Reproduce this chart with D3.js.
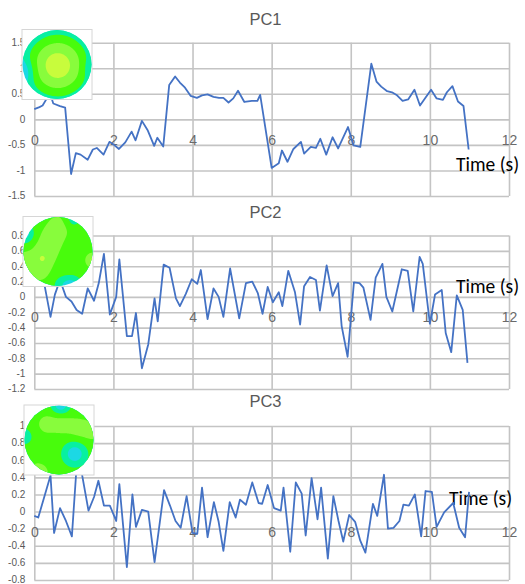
<!DOCTYPE html>
<html><head><meta charset="utf-8">
<script src="https://cdn.jsdelivr.net/npm/d3@7"></script>
<style>
html,body{margin:0;padding:0;background:#fff;}
svg{display:block;font-family:"Liberation Sans",Arial,sans-serif;}
</style></head>
<body><svg id="c" width="525" height="584"></svg>
<script>
// ---------- data ----------
const xTicks = [0, 2, 4, 6, 8, 10, 12];
const xLabel = "Time (s)";
const titles = ["PC1", "PC2", "PC3"];

const pc1Time = [0,0.13,0.21,0.31,0.40,0.48,0.65,0.78,0.93,1.05,1.17,1.35,1.48,1.58,1.75,1.90,2.0,2.14,2.30,2.46,2.56,2.72,2.87,3.03,3.11,3.26,3.41,3.56,3.68,3.81,3.95,4.11,4.24,4.38,4.53,4.67,4.78,4.91,5.03,5.15,5.31,5.50,5.64,5.71,6.0,6.18,6.26,6.40,6.55,6.74,6.82,6.99,7.12,7.23,7.38,7.54,7.68,7.93,8.07,8.24,8.52,8.65,8.77,8.92,9.04,9.17,9.31,9.45,9.61,9.75,10.03,10.17,10.33,10.43,10.57,10.71,10.85,10.98];
const pc1Vals = [0.20,0.24,0.27,0.40,0.50,0.31,0.26,0.23,-1.07,-0.66,-0.69,-0.79,-0.59,-0.56,-0.69,-0.44,-0.49,-0.58,-0.45,-0.24,-0.41,-0.03,-0.22,-0.52,-0.36,-0.53,0.67,0.84,0.72,0.62,0.46,0.42,0.47,0.49,0.44,0.42,0.42,0.33,0.41,0.56,0.34,0.36,0.36,0.48,-0.95,-0.86,-0.61,-0.83,-0.58,-0.44,-0.67,-0.54,-0.56,-0.38,-0.69,-0.35,-0.57,-0.15,-0.51,-0.54,1.09,0.74,0.64,0.55,0.53,0.47,0.36,0.39,0.58,0.27,0.58,0.41,0.38,0.53,0.65,0.35,0.26,-0.59];

const pc2Time = [0,0.15,0.41,0.52,0.65,0.80,0.94,1.07,1.21,1.35,1.51,1.63,1.76,1.91,2.07,2.15,2.34,2.47,2.57,2.72,2.88,3.04,3.12,3.27,3.42,3.58,3.68,3.83,3.98,4.12,4.21,4.38,4.53,4.66,4.78,4.95,5.18,5.35,5.51,5.65,5.77,5.90,6.03,6.18,6.27,6.42,6.59,6.72,6.82,6.97,7.12,7.22,7.39,7.54,7.68,7.77,7.92,8.08,8.22,8.32,8.50,8.63,8.80,8.90,9.05,9.29,9.44,9.58,9.74,9.82,10.0,10.13,10.30,10.40,10.54,10.68,10.83,10.95];
const pc2Vals = [0.35,0.45,-0.26,0.03,0.22,0.0,-0.06,-0.17,-0.22,0.11,-0.05,0.18,0.56,-0.23,0.0,0.49,-0.51,-0.51,-0.21,-0.93,-0.62,-0.02,-0.32,0.42,0.38,-0.02,-0.12,0.04,0.23,0.17,0.35,-0.29,0.11,0.0,-0.26,0.37,-0.28,0.18,0.20,0.05,-0.22,0.13,-0.07,0.06,-0.12,0.34,0.06,-0.36,0.14,0.26,0.22,-0.18,0.41,0.01,0.18,-0.38,-0.78,0.19,0.18,0.12,-0.30,0.25,0.43,0.0,-0.19,0.36,0.34,-0.19,0.52,0.43,-0.35,0.03,0.09,-0.47,-0.72,0.02,-0.17,-0.86];

const pc3Time = [0,0.10,0.41,0.50,0.65,0.80,0.95,1.08,1.20,1.37,1.51,1.62,1.76,1.91,2.07,2.15,2.34,2.48,2.57,2.72,2.88,3.04,3.28,3.43,3.57,3.70,3.85,4.0,4.12,4.24,4.38,4.54,4.66,4.78,4.94,5.09,5.20,5.35,5.51,5.67,5.76,5.90,6.06,6.23,6.30,6.47,6.61,6.76,6.86,7.01,7.16,7.25,7.42,7.56,7.69,7.81,7.96,8.11,8.24,8.37,8.56,8.67,8.84,8.94,9.08,9.23,9.33,9.47,9.62,9.78,9.89,10.05,10.17,10.36,10.59,10.74,10.89,10.99];
const pc3Vals = [-0.05,-0.07,0.42,-0.25,0.04,-0.11,-0.29,0.60,0.45,0.01,0.17,0.36,0.07,0.07,-0.11,0.32,-0.65,0.20,-0.18,0.02,0.0,-0.59,0.25,0.07,-0.11,-0.19,0.18,-0.25,-0.26,0.28,-0.30,0.11,-0.12,-0.46,0.11,-0.07,0.14,0.08,0.34,0.10,0.09,0.31,0.04,0.01,0.28,-0.47,0.34,0.21,-0.28,0.39,-0.09,0.28,-0.55,0.18,-0.11,-0.35,-0.04,-0.12,-0.34,-0.48,0.09,-0.05,0.43,-0.20,-0.19,-0.11,0.08,0.07,0.20,-0.29,0.24,0.23,-0.18,-0.01,0.10,-0.19,-0.30,0.23];

const pc1YTicks = [-1.5,-1,-0.5,0,0.5,1,1.5];
const pc2YTicks = [-1.2,-1,-0.8,-0.6,-0.4,-0.2,0,0.2,0.4,0.6,0.8];
const pc3YTicks = [-0.8,-0.6,-0.4,-0.2,0,0.2,0.4,0.6,0.8,1];

// scalp map field components: [x, y, amplitude, width]
const map1Base = -4;
const map1Src = [[0.02,0.03,6,1.2],[-1.0,0.2,-1.4,0.35],[1.0,0.1,-0.6,0.3]];
const map2Base = 0;
const map2Src = [[0.05,-0.75,0.9,0.34],[-0.2,-0.35,0.9,0.38],[-0.4,0.1,0.95,0.38],[-0.55,0.55,0.9,0.34],[-0.45,0.2,0.6,0.08],
  [-1.0,0.2,0.6,0.3],[-0.95,-0.5,-2.0,0.25],[0.4,-0.9,-1.0,0.25],[0.4,0.98,-2.0,0.25],[0.1,0.95,-0.9,0.25],[1.0,0.25,1.7,0.2]];
const map3Base = 0;
const map3Src = [[0.05,-1.0,-2.2,0.25],[-1.0,-0.1,-1.1,0.25],[-0.35,-0.45,0.85,0.3],[0.1,-0.45,0.85,0.3],[0.55,-0.35,0.85,0.3],[0.95,-0.25,0.85,0.3],
  [0.45,0.4,-2.2,0.32],[-0.6,0.95,1.8,0.25]];
const mapLevels = [-1.5,-0.5,0.5,1.5];
const mapColors = ["#1cd8e4","#08f0a0","#48fc0c","#88fc3c","#c8fc3c"];

// ---------- layout ----------
const panels = [
  {title:titles[0], t:pc1Time, v:pc1Vals, ticks:pc1YTicks, dom:[-1.5,1.5], yr:[196,42.7], titleY:25, time:[456,171], img:[22,29.5], base:map1Base, src:map1Src},
  {title:titles[1], t:pc2Time, v:pc2Vals, ticks:pc2YTicks, dom:[-1.2,0.8], yr:[389,235.5], titleY:218, time:[456,293], img:[23,216.5], base:map2Base, src:map2Src},
  {title:titles[2], t:pc3Time, v:pc3Vals, ticks:pc3YTicks, dom:[-0.8,1.0], yr:[580,426], titleY:406.5, time:[449,505], img:[24,405], base:map3Base, src:map3Src}
];
const X0 = 34.3, X1 = 509;
const svg = d3.select("#c");
const fmt = d => String(+d.toFixed(1));

panels.forEach((p, k) => {
  const x = d3.scaleLinear().domain([0,12]).range([X0,X1]);
  const y = d3.scaleLinear().domain(p.dom).range(p.yr);
  const g = svg.append("g");

  g.append("text").attr("x", 265.5).attr("y", p.titleY).attr("text-anchor","middle")
    .attr("font-size", 16.5).attr("fill","#595959").text(p.title);

  const ya = g.append("g").attr("transform",`translate(${X0},0)`)
    .call(d3.axisLeft(y).tickValues(p.ticks).tickSize(-(X1-X0)).tickPadding(9).tickFormat(fmt));
  ya.select(".domain").remove();
  ya.selectAll("line").attr("stroke","#c4c4c4").attr("stroke-width",1.6);
  ya.selectAll("text").attr("fill","#595959").attr("font-size",10).attr("dy","0.28em")
    .attr("font-family","Liberation Sans, Arial");

  const xg = g.append("g").attr("transform",`translate(0,${p.yr[0]})`)
    .call(d3.axisBottom(x).tickValues(xTicks).tickSize(-(p.yr[0]-p.yr[1])).tickFormat(""));
  xg.select(".domain").remove();
  xg.selectAll("line").attr("stroke","#c4c4c4").attr("stroke-width",1.6);

  const xa = g.append("g").attr("transform",`translate(0,${y(0)})`)
    .call(d3.axisBottom(x).tickValues(xTicks).tickSize(0).tickPadding(15.5));
  xa.select(".domain").remove();
  xa.selectAll("text").attr("fill","#6a6a6a").attr("font-size",14).attr("font-family","Liberation Sans, Arial");

  g.append("text").attr("x", p.time[0]).attr("y", p.time[1]).attr("font-size",19.5)
    .attr("fill","#000").attr("font-family","Carlito, Liberation Sans, Arial").text(xLabel);

  const pts = p.t.map((t,i)=>[t,p.v[i]]);
  g.append("path").datum(pts)
    .attr("d", d3.line().x(d=>x(d[0])).y(d=>y(d[1])))
    .attr("fill","none").attr("stroke","#4472C4").attr("stroke-width",1.8).attr("stroke-linejoin","round");

  const S = 70, bx = p.img[0], by = p.img[1];
  const n = 70;
  const vals = new Array(n*n);
  for (let j=0;j<n;j++) for (let i=0;i<n;i++){
    const px = -1 + 2*(i+0.5)/n, py = -1 + 2*(j+0.5)/n;
    let f = p.base;
    p.src.forEach(s => { const dx=px-s[0], dy=py-s[1]; f += s[2]*Math.exp(-(dx*dx+dy*dy)/(s[3]*s[3])); });
    vals[j*n+i] = f;
  }
  const conts = d3.contours().size([n,n]).thresholds(mapLevels)(vals);
  const img = g.append("g");
  img.append("rect").attr("x",bx).attr("y",by).attr("width",S).attr("height",S)
    .attr("fill","#fff").attr("stroke","#d6d6d6").attr("stroke-width",1);
  const cid = "clip"+k;
  svg.append("defs").append("clipPath").attr("id",cid)
    .append("circle").attr("cx",bx+S/2).attr("cy",by+S/2).attr("r",S/2-0.5);
  const mg = img.append("g").attr("clip-path",`url(#${cid})`);
  mg.append("rect").attr("x",bx).attr("y",by).attr("width",S).attr("height",S).attr("fill",mapColors[0]);
  const path = d3.geoPath(d3.geoIdentity().scale(S/n).translate([bx,by]));
  mg.selectAll("path").data(conts).join("path").attr("d",path)
    .attr("fill",(d,i)=>mapColors[i+1]);
});
</script></body></html>
